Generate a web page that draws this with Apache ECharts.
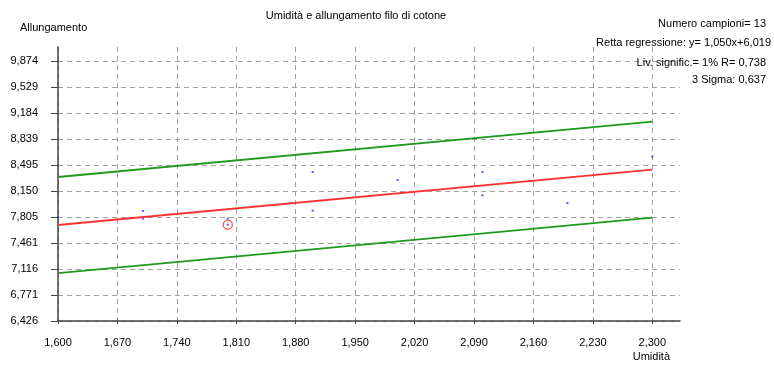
<!DOCTYPE html>
<html><head><meta charset="utf-8">
<script src="https://cdn.jsdelivr.net/npm/echarts@6/dist/echarts.min.js"></script>
<style>html,body{margin:0;padding:0;background:#fff}#c{width:774px;height:365px}</style>
</head><body><div id="c"></div>
<script>
// Data
var xTicks = [1.600, 1.670, 1.740, 1.810, 1.880, 1.950, 2.020, 2.090, 2.160, 2.230, 2.300];
var yTicks = [6.426, 6.771, 7.116, 7.461, 7.805, 8.150, 8.495, 8.839, 9.184, 9.529, 9.874];
var umidita =      [1.60, 1.70, 1.70, 1.80, 1.80, 1.90, 1.90, 2.00, 2.10, 2.10, 2.20, 2.30];
var allungamento = [7.805, 7.885, 7.784, 7.704, 7.784, 8.402, 7.890, 8.296, 8.402, 8.093, 7.991, 8.606];
var outlier = [1.80, 7.704];
var regLineX = [1.600, 2.300];
var regLineY = [7.699, 8.434];
var upperY = [8.336, 9.071];
var lowerY = [7.062, 7.797];
var infoLines = ['Numero campioni= 13', 'Retta regressione: y= 1,050x+6,019', 'Liv. signific.= 1% R= 0,738', '3 Sigma: 0,637'];

function pairs(xs, ys){ return xs.map(function(x,i){ return [x, ys[i]]; }); }
function fmt(v){ return Number(v).toFixed(3).replace('.', ','); }

var font = 'Liberation Sans, Arial, sans-serif';
var chart = echarts.init(document.getElementById('c'), null, {renderer:'canvas'});
var infoTop = [18, 37, 57, 74];
var infoRight = [8, 3, 8, 8];
var titles = [{
  text: 'Umidità e allungamento filo di cotone', left: 356, top: 10, padding: 0, textAlign: 'center',
  textStyle: {fontFamily: font, fontSize: 11, fontWeight: 'normal', color: '#000'}
}];
infoLines.forEach(function(t, i){
  titles.push({text: t, right: infoRight[i], top: infoTop[i], padding: 0, textStyle: {fontFamily: font, fontSize: 11, fontWeight: 'normal', color: '#000'}});
});

chart.setOption({
  animation: false,
  backgroundColor: '#fff',
  title: titles,
  grid: {left: 58, right: 94, top: 47, bottom: 44, containLabel: false},
  xAxis: {
    type: 'value', min: 1.6, max: 2.3326,
    name: 'Umidità', nameLocation: 'end', nameGap: 0,
    nameTextStyle: {fontFamily: font, fontSize: 11, color: '#000', align: 'right', verticalAlign: 'top', padding: [30, 10, 0, 0]},
    axisLine: {show: true, lineStyle: {color: '#444', width: 1.5}},
    axisTick: {show: true, customValues: xTicks, length: 3, inside: false, lineStyle: {color: '#444'}},
    axisLabel: {customValues: xTicks, formatter: fmt, margin: 16, fontFamily: font, fontSize: 11, color: '#000'},
    splitLine: {show: true, lineStyle: {color: '#a0a0a0', type: [5, 4], width: 1}}
  },
  yAxis: {
    type: 'value', min: 6.426, max: 10.060,
    name: 'Allungamento', nameLocation: 'end', nameGap: 0,
    nameTextStyle: {fontFamily: font, fontSize: 11, color: '#000', align: 'left', verticalAlign: 'bottom', padding: [0, 0, 14, -38]},
    axisLine: {show: true, lineStyle: {color: '#444', width: 1.5}},
    axisTick: {show: true, customValues: yTicks, length: 7, lineStyle: {color: '#444'}},
    axisLabel: {customValues: yTicks, formatter: fmt, margin: 20, fontFamily: font, fontSize: 11, color: '#000'},
    splitLine: {show: true, lineStyle: {color: '#a0a0a0', type: [5, 4], width: 1}}
  },
  series: [
    {type: 'line', data: pairs(regLineX, upperY), symbol: 'none', lineStyle: {color: '#1f9a1f', width: 1.8}, silent: true},
    {type: 'line', data: pairs(regLineX, lowerY), symbol: 'none', lineStyle: {color: '#1f9a1f', width: 1.8}, silent: true},
    {type: 'line', data: pairs(regLineX, regLineY), symbol: 'none', lineStyle: {color: '#ff3030', width: 1.8}, silent: true},
    {type: 'scatter', data: pairs(umidita, allungamento), symbol: 'rect', symbolSize: 2, itemStyle: {color: '#3030ff'}},
    {type: 'scatter', data: [outlier], symbol: 'circle', symbolSize: 9, itemStyle: {color: 'transparent', borderColor: '#ff2020', borderWidth: 1.3}}
  ]
});
</script></body></html>
